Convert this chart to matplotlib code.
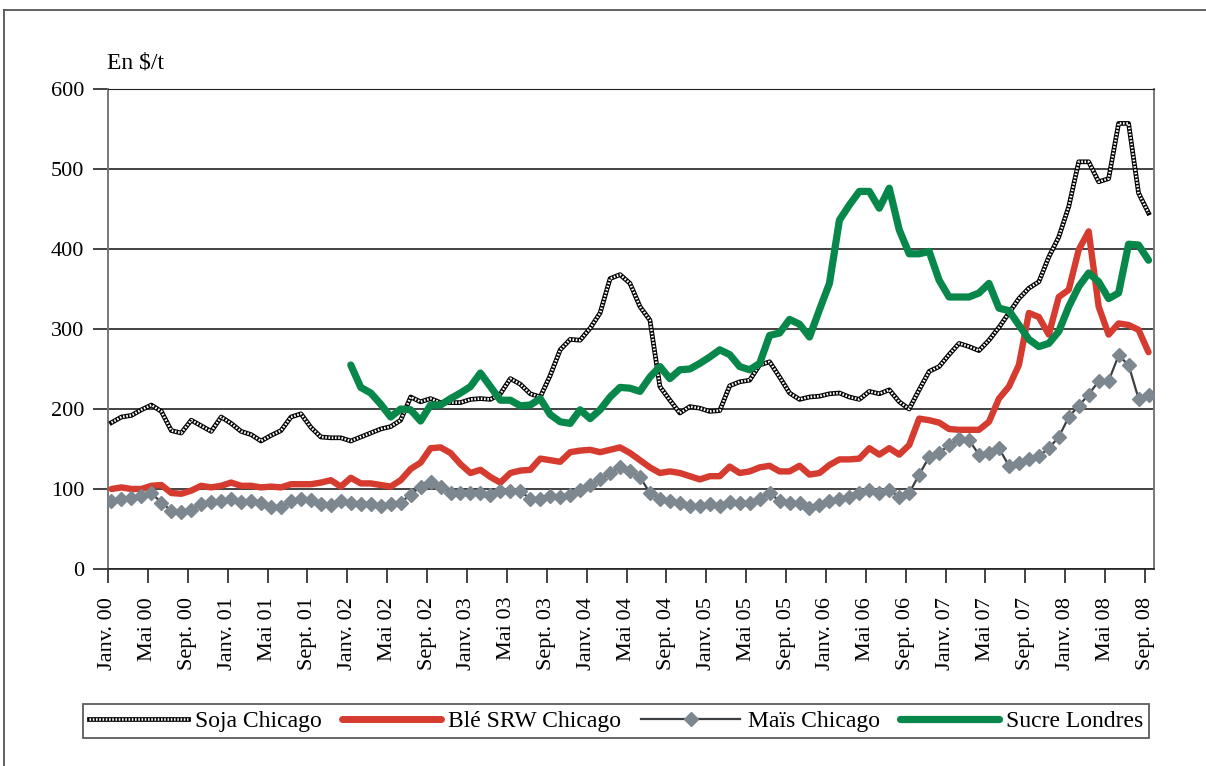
import numpy as np
import matplotlib.pyplot as plt
from matplotlib.lines import Line2D

plt.rcParams['font.family'] = ['Liberation Serif', 'DejaVu Serif']

# monthly prices, Janv. 2000 -> Sept. 2008 (USD per tonne)
soja = [183, 190, 192, 199, 205, 197, 173, 170, 186, 179, 172, 190, 182, 172, 168, 160, 167, 173, 190, 194, 177, 165, 164, 164, 160, 165,
        170, 175, 178, 186, 215, 209, 213, 208, 208, 208, 212, 213, 212, 219, 238, 231, 219, 215, 242, 274, 287, 286, 301, 320, 363, 368, 357,
        328, 311, 228, 211, 195, 203, 201, 197, 198, 229, 234, 236, 255, 259, 240, 220, 212, 215, 216, 219, 220, 215, 212, 222, 219, 224,
        209, 200, 224, 247, 253, 268, 282, 278, 273, 286, 302, 320, 338, 351, 359, 390, 415, 453, 509, 509, 484, 488, 557, 557, 470, 445]
ble = [100, 102, 100, 100, 104, 105, 95, 94, 98, 104, 102, 104, 108, 104, 104, 102, 103, 102, 106, 106, 106, 108, 111, 103, 114, 107,
       107, 105, 103, 111, 125, 133, 151, 152, 145, 131, 120, 124, 115, 108, 120, 123, 124, 138, 136, 134, 146, 148, 149, 146, 149, 152, 145,
       136, 127, 120, 122, 120, 116, 112, 116, 116, 128, 120, 122, 127, 129, 122, 122, 129, 118, 120, 130, 137, 137, 138, 151, 143, 151,
       143, 155, 188, 186, 183, 175, 174, 174, 174, 184, 213, 228, 255, 320, 315, 293, 340, 349, 399, 422, 328, 293, 307, 305, 299, 271]
mais = [85, 88, 89, 91, 95, 83, 73, 71, 74, 81, 84, 85, 87, 84, 85, 82, 78, 77, 85, 88, 86, 81, 80, 85, 83, 81,
        81, 79, 81, 83, 93, 103, 109, 103, 95, 95, 95, 95, 92, 97, 98, 97, 88, 88, 91, 90, 93, 99, 105, 112, 120, 127, 122,
        115, 95, 88, 85, 82, 79, 79, 81, 79, 84, 83, 83, 88, 95, 85, 82, 82, 76, 80, 85, 88, 90, 95, 99, 95, 99,
        90, 95, 118, 140, 145, 155, 163, 161, 143, 145, 151, 129, 132, 137, 141, 151, 165, 190, 204, 218, 235, 235, 267, 255, 213, 217]
# sugar series starts in Janv. 2002
sucre = [255, 227, 220, 206, 190, 200, 199, 185, 205, 205, 213, 220, 228, 245, 228, 211, 211, 204, 205, 213, 193, 184, 182, 199, 188, 199, 215, 227, 226,
         222, 240, 253, 238, 249, 250, 257, 265, 274, 268, 253, 249, 257, 292, 295, 312, 306, 290, 324, 357, 436, 455, 472, 472, 451, 476,
         424, 394, 394, 397, 361, 340, 340, 340, 345, 357, 326, 323, 305, 287, 278, 282, 297, 328, 353, 370, 359, 338, 345, 406, 405, 386]

mois = ['Janv.', 'Mai', 'Sept.']
annees = ['00', '01', '02', '03', '04', '05', '06', '07', '08']
tick_labels = [f'{m} {a}' for a in annees for m in mois]

n = len(soja)
x = np.arange(n) + 0.35
x_sucre = x[n - len(sucre):]

fig = plt.figure(figsize=(12.06, 7.66), dpi=100)
ax = fig.add_axes([108 / 1206, 1 - 569 / 766, 1046 / 1206, 480 / 766])

# chequered soy line: black base with white dots
ax.plot(x, soja, color='black', lw=3.4, zorder=3)
ax.plot(x, soja, color='white', lw=1.8, ls=(0, (0.65, 0.65)), zorder=3.1)
ax.plot(x, ble, color='#d63b2f', lw=4.6, solid_capstyle='round', zorder=4)
ax.plot(x, mais, color='#3c3f42', lw=1.6, marker='D', ms=7, mfc='#7d8790', mec='#7d8790', zorder=5)
ax.plot(x_sucre, sucre, color='#07874a', lw=5.2, solid_capstyle='round', zorder=6)

ax.set_xlim(0, 104.9)
ax.set_ylim(0, 600)
ax.set_yticks(range(0, 601, 100))
ax.set_xticks(np.arange(0, n, 4))
ax.set_xticklabels(tick_labels, rotation=90, fontsize=16)
ax.tick_params(axis='y', labelsize=16, length=11, width=1.2, color='#222222', pad=6)
ax.tick_params(axis='x', length=10, width=1.2, color='#222222', pad=10)
ax.yaxis.grid(True, color='#222222', lw=1.2)
ax.set_axisbelow(True)
for side in ['left', 'right']:
    ax.spines[side].set_color('#777777')
    ax.spines[side].set_linewidth(1.4)
ax.spines['top'].set_color('#222222')
ax.spines['bottom'].set_color('#222222')
ax.spines['bottom'].set_linewidth(1.2)

fig.text(107 / 1206, 1 - 63 / 766, 'En $/t', fontsize=17, va='center', ha='left')

# legend
h_soja = (Line2D([], [], color='black', lw=3.4), Line2D([], [], color='white', lw=1.8, ls=(0, (0.65, 0.65))))
h_ble = Line2D([], [], color='#d63b2f', lw=5, solid_capstyle='round')
h_mais = Line2D([], [], color='#3c3f42', lw=1.6, marker='D', ms=7, mfc='#7d8790', mec='#7d8790')
h_sucre = Line2D([], [], color='#07874a', lw=5.2, solid_capstyle='round')
leg = fig.legend([h_soja, h_ble, h_mais, h_sucre],
                 ['Soja Chicago', 'Blé SRW Chicago', 'Maïs Chicago', 'Sucre Londres'],
                 loc='center', bbox_to_anchor=(616 / 1206, 1 - 721 / 766), ncol=4, fontsize=17,
                 handlelength=4.2, handletextpad=0.3, columnspacing=0.85,
                 frameon=True, fancybox=False, borderpad=0.25, borderaxespad=0)
leg.get_frame().set_edgecolor('#333333')
leg.get_frame().set_linewidth(1.3)

# outer frame (top and left border)
fig.add_artist(Line2D([4 / 1206, 1], [1 - 10 / 766, 1 - 10 / 766], color='#555555', lw=1.3))
fig.add_artist(Line2D([4 / 1206, 4 / 1206], [0, 1 - 10 / 766], color='#555555', lw=1.3))

fig.savefig('out.png', dpi=100)
